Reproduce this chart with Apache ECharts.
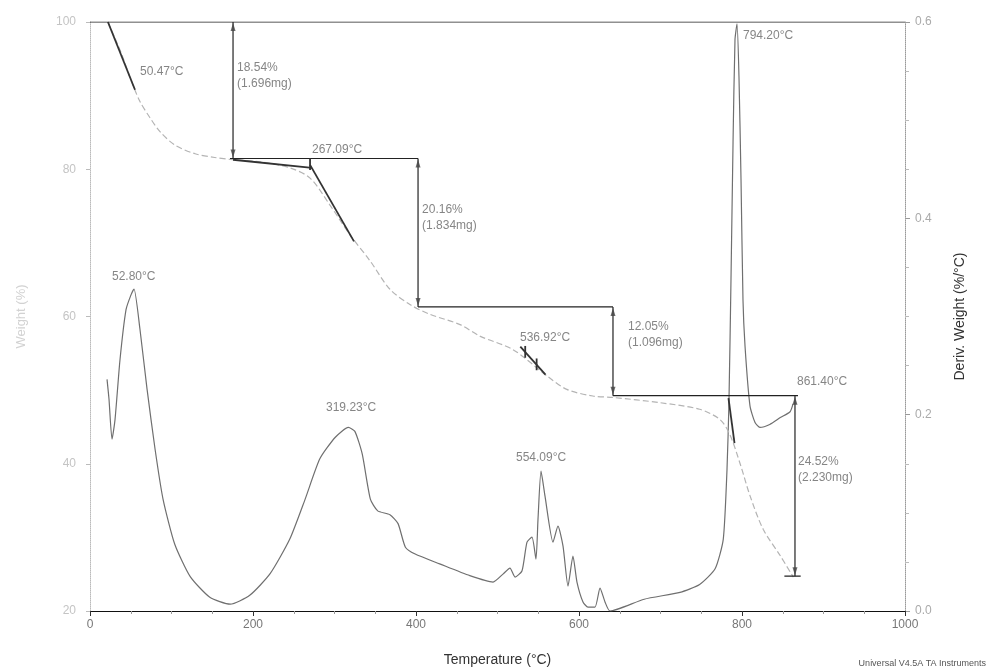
<!DOCTYPE html>
<html><head><meta charset="utf-8">
<script src="https://cdn.jsdelivr.net/npm/echarts@6/dist/echarts.min.js"></script>
<style>html,body{margin:0;padding:0;background:#fff}#c{width:996px;height:672px}</style>
</head><body><div id="c"></div>
<script>
// Weight (%) curve
const weightT = [22,30.7,39.3,50.3,61.3,73.6,85.9,104,129,153,175,209,245,270,294,319,344,368,393,417,454,479,519,561,585,617,642,699,748,773,785,798,810,826,847,863];
const weightW = [100,97.8,95.5,92.1,89.2,87.0,85.1,83.3,82.1,81.6,81.3,81.0,80.2,78.8,75.2,71.1,67.5,63.7,61.6,60.3,58.9,57.3,55.5,51.9,50.1,49.2,49.0,48.3,47.4,46.0,44.0,39.9,35.6,31.1,27.5,24.6];
// Deriv. Weight (%/°C) curve
const derivT = [20.9,23.3,27,30.7,36.8,44.2,50.3,54,61.3,70,79.8,89.6,104,123,147,172,196,221,245,264,282,301,317,325,334,344,353,368,378,387,399,429,466,494.5,506.7,515.3,521.5,530,536.2,542.3,547.2,549.7,553.4,558.3,568.1,574.2,580.4,586.5,592.6,597.5,604.9,611,619.6,625.8,631.9,638,680,724,748,767,777,781.6,784,786.5,789,791.4,793.9,796.3,798.8,801.2,803.7,809.8,816,822,834,847,859,862.6];
const derivD = [0.236,0.216,0.175,0.195,0.256,0.307,0.322,0.328,0.287,0.226,0.165,0.114,0.068,0.035,0.014,0.007,0.016,0.038,0.073,0.114,0.155,0.177,0.187,0.183,0.160,0.114,0.102,0.098,0.089,0.065,0.058,0.048,0.036,0.0295,0.0376,0.0437,0.0346,0.0407,0.0702,0.0753,0.0529,0.0936,0.1424,0.117,0.0702,0.0865,0.0661,0.0254,0.056,0.0295,0.0092,0.004,0.004,0.0234,0.0092,0.0,0.012,0.019,0.027,0.043,0.073,0.144,0.213,0.338,0.477,0.582,0.598,0.544,0.439,0.317,0.270,0.209,0.192,0.187,0.190,0.197,0.203,0.211];
// Step analysis
const stepLevels = [100, 81.46, 61.30, 49.25, 24.73];
const stepXs = [175.5, 402.5, 641.7, 865];
const stepTexts = [["18.54%","(1.696mg)"],["20.16%","(1.834mg)"],["12.05%","(1.096mg)"],["24.52%","(2.230mg)"]];
// Peak / onset labels [text, T, W]
const peakLabels = [
  ["50.47°C", 61.3, 93.2],
  ["267.09°C", 272.4, 82.64],
  ["536.92°C", 527.6, 57.15],
  ["52.80°C", 27, 65.42],
  ["319.23°C", 289.6, 47.66],
  ["554.09°C", 522.7, 40.88],
  ["794.20°C", 801.2, 98.1],
  ["861.40°C", 867.5, 51.19]
];
const stepLabelPos = [[180.4, 93.76, 91.6],[407.4, 74.5, 72.34],[660.1, 58.64, 56.47],[868.7, 40.34, 38.17]];
// Tangent / marker segments [[T,W],[T,W]]
const tangents = [
  [[22,100],[55.2,90.8]],
  [[175.5,81.29],[272.4,80.2]],
  [[270,80.6],[323.9,70.2]],
  [[270,81.5],[270,79.9]],
  [[528,55.9],[558.9,52.1]],
  [[534,56.0],[534,54.4]],
  [[548,54.3],[548,52.7]],
  [[783.4,48.9],[790.8,42.8]]
];

const zip = (a,b)=>a.map((v,i)=>[v,b[i]]);
const segs = [];
segs.push([[0,stepLevels[0]],[1000,stepLevels[0]]]);
segs.push([[171.8,stepLevels[1]],[stepXs[1],stepLevels[1]]]);
segs.push([[stepXs[1],stepLevels[2]],[stepXs[2],stepLevels[2]]]);
segs.push([[stepXs[2],stepLevels[3]],[868.7,stepLevels[3]]]);
segs.push([[852,stepLevels[4]],[872,stepLevels[4]]]);
const arrows = [];
for (let i=0;i<stepXs.length;i++) {
  segs.push([[stepXs[i],stepLevels[i]],[stepXs[i],stepLevels[i+1]]]);
  arrows.push({value:[stepXs[i],stepLevels[i]], symbolRotate:0, symbolOffset:[0,5]});
  arrows.push({value:[stepXs[i],stepLevels[i+1]], symbolRotate:180, symbolOffset:[0,-5]});
}

const txtStyle = {color:'#666', fontSize:12, fontFamily:'Liberation Sans, Arial, sans-serif'};
const labelData = [];
peakLabels.forEach(p=>labelData.push({value:[p[1],p[2]], name:p[0]}));
stepTexts.forEach((s,i)=>{
  labelData.push({value:[stepLabelPos[i][0],stepLabelPos[i][1]], name:s[0]});
  labelData.push({value:[stepLabelPos[i][0],stepLabelPos[i][2]], name:s[1]});
});

const series = [];
series.push({type:'line', yAxisIndex:1, data:zip(derivT,derivD), showSymbol:false, symbol:'none', smooth:0.2, lineStyle:{color:'#6f6f6f', width:1.2}, z:3});
series.push({type:'line', yAxisIndex:0, data:zip(weightT,weightW), showSymbol:false, symbol:'none', smooth:0.3, lineStyle:{color:'#b4b4b4', width:1.2, type:[6,3]}, z:3});
segs.forEach(s=>series.push({type:'line', yAxisIndex:0, data:s, symbol:'none', lineStyle:{color:'#222', width:1.2}, z:4, silent:true}));
tangents.forEach(s=>series.push({type:'line', yAxisIndex:0, data:s, symbol:'none', lineStyle:{color:'#333', width:1.8}, z:5, silent:true}));
series.push({type:'scatter', yAxisIndex:0, data:arrows, symbol:'triangle', symbolSize:[5,8], itemStyle:{color:'#444'}, z:5, silent:true});
series.push({type:'scatter', yAxisIndex:0, data:labelData, symbolSize:0, label:{show:true, position:'right', distance:0, formatter:p=>p.name, ...txtStyle}, z:6, silent:true});

const chart = echarts.init(document.getElementById('c'));
chart.setOption({
  animation:false,
  backgroundColor:'#fff',
  grid:{left:90, right:91, top:22, bottom:60},
  xAxis:{type:'value', min:0, max:1000, interval:200,
    name:'Temperature (°C)', nameLocation:'middle', nameGap:42,
    nameTextStyle:{color:'#333', fontSize:14, fontFamily:'Liberation Sans, Arial, sans-serif'},
    axisLine:{lineStyle:{color:'#111', width:1.2}},
    axisTick:{show:true, length:5, lineStyle:{color:'#333'}},
    minorTick:{show:true, splitNumber:4, length:3, lineStyle:{color:'#999'}},
    axisLabel:{color:'#777', fontSize:12, margin:8, formatter:v=>String(v), fontFamily:'Liberation Sans, Arial, sans-serif'},
    splitLine:{show:false}},
  yAxis:[
    {type:'value', min:20, max:100, interval:20, position:'left',
     name:'Weight (%)', nameLocation:'middle', nameGap:62, nameRotate:90,
     nameTextStyle:{color:'#d2d2d2', fontSize:13, fontFamily:'Liberation Sans, Arial, sans-serif'},
     axisLine:{show:true, lineStyle:{color:'#bbb', type:'dotted'}},
     axisTick:{show:true, length:4, lineStyle:{color:'#bbb'}},
     axisLabel:{color:'#c4c4c4', fontSize:12, margin:14, fontFamily:'Liberation Sans, Arial, sans-serif'},
     splitLine:{show:false}},
    {type:'value', min:0, max:0.6, interval:0.2, position:'right',
     name:'Deriv. Weight (%/°C)', nameLocation:'middle', nameGap:48, nameRotate:90,
     nameTextStyle:{color:'#333', fontSize:14, fontFamily:'Liberation Sans, Arial, sans-serif'},
     axisLine:{show:true, lineStyle:{color:'#999', type:'dotted'}},
     axisTick:{show:true, length:5, lineStyle:{color:'#999'}},
     minorTick:{show:true, splitNumber:4, length:4, lineStyle:{color:'#bbb'}},
     axisLabel:{color:'#aaa', fontSize:12, margin:10, formatter:v=>v.toFixed(1), fontFamily:'Liberation Sans, Arial, sans-serif'},
     splitLine:{show:false}}
  ],
  graphic:[{type:'text', right:10, bottom:4, style:{text:'Universal V4.5A TA Instruments', fill:'#555', fontSize:9, fontFamily:'Liberation Sans, Arial, sans-serif'}}],
  series:series
});
</script></body></html>
